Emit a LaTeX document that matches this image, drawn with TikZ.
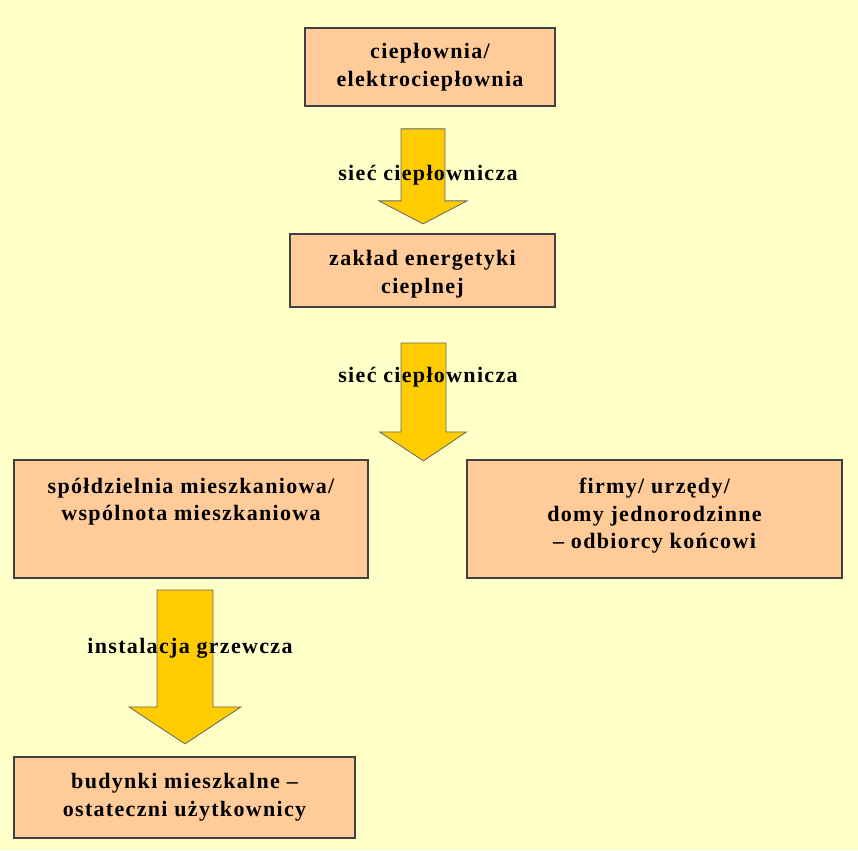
\documentclass[tikz,border=0pt]{standalone}
\usepackage{fontspec}
\setmainfont[LetterSpace=6]{Liberation Serif}
\usetikzlibrary{positioning,calc}
\definecolor{tlo}{HTML}{FFFFC8}
\definecolor{skrzynka}{HTML}{FFCC99}
\definecolor{strzalka}{HTML}{FFCC00}
\definecolor{ramka}{HTML}{404040}

\begin{document}
\begin{tikzpicture}[x=1pt, y=-1pt,
	box/.style={draw=ramka, line width=1.8pt, fill=skrzynka, align=center, inner sep=0pt,
		font=\fontsize{22}{27.5}\selectfont\bfseries},
	podpis/.style={font=\fontsize{22}{27.5}\selectfont\bfseries, inner sep=0pt},
	gruba/.style={fill=strzalka, draw=ramka!80, line width=0.8pt, line join=miter}]
	\useasboundingbox (0,0) rectangle (858,850);
	\fill [tlo] (0,0) rectangle (858,850);
	% boxes
	\node [box, minimum width=250pt, minimum height=78pt] (cieplownia) at (430,67) {ciepłownia/\\elektrociepłownia};
	\node [box, minimum width=265pt, minimum height=73pt] (zaklad) at (422.5,270.5) {\strut\\[-24pt]zakład energetyki\\cieplnej};
	\node [box, minimum width=354pt, minimum height=118pt] (spoldzielnia) at (191,519) {spółdzielnia mieszkaniowa/\\wspólnota mieszkaniowa\\~\\[-16pt]\mbox{}};
	\node [box, minimum width=375pt, minimum height=118pt] (firmy) at (654.5,519) {firmy/ urzędy/\\domy jednorodzinne\\– odbiorcy końcowi\\[-16pt]\mbox{}};
	\node [box, minimum width=341pt, minimum height=81pt] (budynki) at (184.5,797.5) {budynki mieszkalne –\\ostateczni użytkownicy\\[-22pt]\mbox{}};
	% arrows
	\coordinate (s1) at ($(cieplownia.south)+(-7,22)$);
	\coordinate (s2) at ($(zaklad.south)+(1,35)$);
	\coordinate (s3) at ($(spoldzielnia.south)+(-6,11)$);
	\draw [gruba] (s1) ++(-22,0) -- ++(44,0) -- ++(0,72) -- ++(22,0) -- ++(-44,23) -- ++(-44,-23) -- ++(22,0) -- cycle;
	\draw [gruba] (s2) ++(-22.5,0) -- ++(45,0) -- ++(0,89) -- ++(20.5,0) -- ++(-43,29) -- ++(-44,-29) -- ++(21.5,0) -- cycle;
	\draw [gruba] (s3) ++(-28,0) -- ++(56,0) -- ++(0,117) -- ++(28,0) -- ++(-56,37) -- ++(-56,-37) -- ++(28,0) -- cycle;
	% labels
	\node [podpis] (siec1) at (428,175) {sieć ciepłownicza};
	\node [podpis] (siec2) at (428,377) {sieć ciepłownicza};
	\node [podpis] (instalacja) at (190,648) {instalacja grzewcza};
\end{tikzpicture}
\end{document}
